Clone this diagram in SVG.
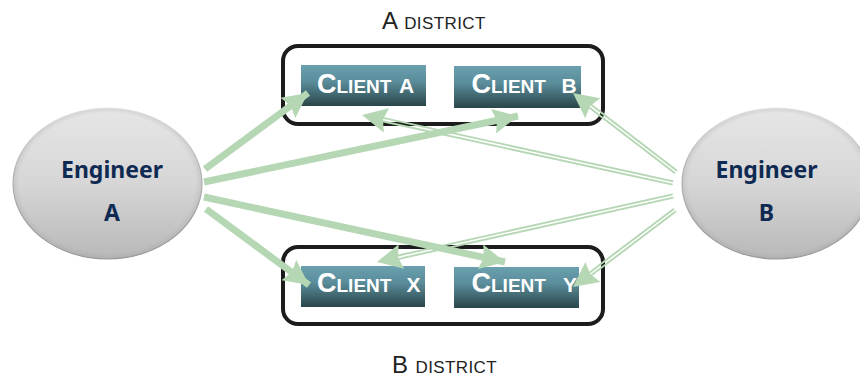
<svg xmlns="http://www.w3.org/2000/svg" width="860" height="377" viewBox="0 0 860 377">
<style>
.district{fill:none;stroke:#1c1c1c;stroke-width:4}
.client{fill:url(#cg)}
.cl{font-family:"Liberation Sans",Arial,sans-serif;font-weight:700;font-size:27px;font-variant:small-caps;fill:#fff}
.cs{font-family:"Liberation Sans",Arial,sans-serif;font-weight:700;font-size:21px;fill:#fff}
.dl{font-family:"Liberation Sans",Arial,sans-serif;font-size:24px;font-variant:small-caps;letter-spacing:0.400px;fill:#222}
.en{font-family:"Noto Sans","Open Sans",sans-serif;font-weight:700;font-size:23px;fill:#0f2a52;text-anchor:middle}
.eng{fill:url(#eg);stroke:url(#es);stroke-width:1.200}
.rim{fill:url(#er)}
.thick{stroke:#b5d7b4;stroke-width:7;fill:none;marker-end:url(#hd)}
.head{stroke:none;fill:none;marker-end:url(#hd)}
.dbl{stroke:#b5d7b4;stroke-width:1.900;fill:none}
</style>
<defs>
<linearGradient id="cg" x1="0" y1="0" x2="0" y2="1"><stop offset="0" stop-color="#6aa0af"/><stop offset="0.4" stop-color="#5b8d9b"/><stop offset="1" stop-color="#2a4649"/></linearGradient>
<linearGradient id="eg" x1="0" y1="0" x2="0" y2="1"><stop offset="0" stop-color="#e6e6e6"/><stop offset="0.5" stop-color="#d6d6d6"/><stop offset="1" stop-color="#b8b8b8"/></linearGradient>
<linearGradient id="es" x1="0" y1="0" x2="0" y2="1"><stop offset="0" stop-color="#f2f2f2"/><stop offset="0.4" stop-color="#b8b8b8"/><stop offset="1" stop-color="#9a9a9a"/></linearGradient>
<radialGradient id="er"><stop offset="0.93" stop-color="#888" stop-opacity="0"/><stop offset="1" stop-color="#888" stop-opacity="0.2"/></radialGradient>
<marker id="hd" markerUnits="userSpaceOnUse" markerWidth="30" markerHeight="28" refX="25" refY="14" orient="auto"><path d="M0 1.500 L25 14 L0 26.500 L3.500 14 Z" fill="#b5d7b4"/></marker>
</defs>
<text class="dl" x="382" y="29">A district</text>
<text class="dl" x="392" y="373">B district</text>
<g id="district-a"><rect class="district" x="283" y="46" width="320" height="78" rx="15"/></g>
<g id="district-b"><rect class="district" x="283" y="247" width="320" height="77" rx="15"/></g>
<g id="client-a"><rect class="client" x="301" y="65" width="125" height="41"/><text class="cl" x="317" y="93">Client</text><text class="cs" x="399" y="93">A</text></g>
<g id="client-b"><rect class="client" x="454" y="66" width="127" height="42"/><text class="cl" x="471.500" y="93">Client</text><text class="cs" x="561.500" y="93">B</text></g>
<g id="client-x"><rect class="client" x="301" y="266" width="124" height="41"/><text class="cl" x="317" y="292">Client</text><text class="cs" x="406.500" y="292">X</text></g>
<g id="client-y"><rect class="client" x="454" y="267" width="125" height="41"/><text class="cl" x="471.500" y="292">Client</text><text class="cs" x="563" y="292">Y</text></g>
<g id="engineer-a"><ellipse class="eng" cx="107.500" cy="183.500" rx="94.500" ry="75.500"/><ellipse class="rim" cx="107.500" cy="183.500" rx="94.500" ry="75.500"/><text class="en" x="112" y="178">Engineer</text><text class="en" x="112" y="221">A</text></g>
<g id="engineer-b"><ellipse class="eng" cx="776.500" cy="183.500" rx="94.500" ry="75.500"/><ellipse class="rim" cx="776.500" cy="183.500" rx="94.500" ry="75.500"/><text class="en" x="766.500" y="178">Engineer</text><text class="en" x="766.500" y="221">B</text></g>
<g id="connectors">
<path class="head" d="M676 172 L573 93"/><path class="dbl" d="M677 170.650 L589.900 103.850 M675 173.350 L587.900 106.550"/>
<path class="head" d="M673 183 L362 115"/><path class="dbl" d="M673.360 181.340 L381.860 117.640 M672.640 184.660 L381.140 120.960"/>
<path class="head" d="M673 196 L377 262"/><path class="dbl" d="M673.370 197.660 L396.870 259.310 M672.630 194.340 L396.130 255.990"/>
<path class="head" d="M675 210 L573 287"/><path class="dbl" d="M676.020 211.360 L590.020 276.360 M673.980 208.640 L587.980 273.640"/>
<path class="thick" d="M205 169 L308 93"/>
<path class="thick" d="M204 182 L518 116"/>
<path class="thick" d="M204 197 L505 262"/>
<path class="thick" d="M206 209 L309 285"/>
</g>
</svg>
